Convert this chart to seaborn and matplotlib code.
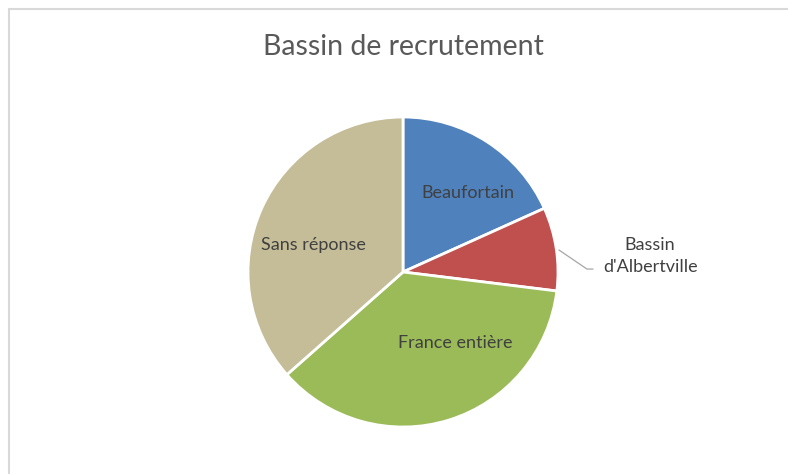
import matplotlib
matplotlib.use("Agg")
import matplotlib.pyplot as plt
import seaborn as sns

# Recruitment area breakdown (respondent counts)
categories = ["Beaufortain", "Bassin\nd'Albertville", "France entière", "Sans réponse"]
counts = [21, 10, 42, 42]
colors = ["#4F81BD", "#C0504D", "#9BBB59", "#C4BD97"]

sns.set_theme(style="white")
plt.rcParams["font.family"] = ["Lato", "DejaVu Sans"]

W, H = 788, 474
fig = plt.figure(figsize=(W / 100, H / 100), dpi=100)
fig.patch.set_facecolor("white")

# light grey chart-area frame
frame = plt.Rectangle((9 / W, -0.1), 1.2, (H - 9) / H + 0.1, transform=fig.transFigure,
                      fill=False, edgecolor="#D9D9D9", linewidth=1.5)
fig.patches.append(frame)

cx, cy, r = 403, 272, 155
ax = fig.add_axes([(cx - r) / W, (H - cy - r) / H, 2 * r / W, 2 * r / H])
wedges, _ = ax.pie(counts, colors=sns.color_palette(colors), startangle=90, counterclock=False,
                   radius=1.0, wedgeprops=dict(edgecolor="white", linewidth=2))
ax.set_xlim(-1, 1)
ax.set_ylim(-1, 1)
ax.set_aspect("equal")
ax.axis("off")

label_color = "#404040"
fs = 13
# inside labels
inside = {0: (0.42, 0.51), 2: (0.34, -0.46), 3: (-0.58, 0.175)}
for i, (x, y) in inside.items():
    ax.text(x, y, categories[i], ha="center", va="center", fontsize=fs, color=label_color)

# outside label with leader line for the small slice
ax.plot([1.006, 1.187, 1.226], [0.142, 0.019, 0.019], color="#A6A6A6", lw=0.9,
        clip_on=False)
ax.text(1.594, 0.103, categories[1], ha="center", va="center", fontsize=fs, color=label_color,
        linespacing=1.45)

fig.text(403 / W, 1 - 47 / H, "Bassin de recrutement", ha="center", va="center",
         fontsize=20.5, color="#595959")

fig.savefig("out.png", dpi=100, facecolor="white")
